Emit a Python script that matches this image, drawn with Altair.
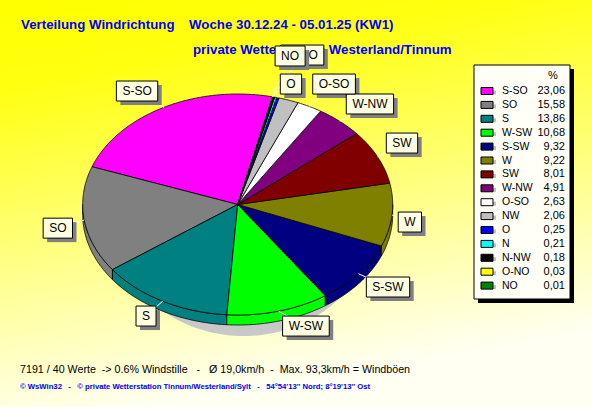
import math

import altair as alt
import pandas as pd

# ---------------------------------------------------------------- data
directions = ["S-SO", "SO", "S", "W-SW", "S-SW", "W", "SW", "W-NW",
              "O-SO", "NW", "O", "N", "N-NW", "O-NO", "NO"]
shares = [23.06, 15.58, 13.86, 10.68, 9.32, 9.22, 8.01, 4.91,
          2.63, 2.06, 0.25, 0.21, 0.18, 0.03, 0.01]
colors = ["#FF00FF", "#808080", "#008080", "#00FF00", "#000080", "#808000",
          "#800000", "#800080", "#FFFFFF", "#C0C0C0", "#0000FF", "#00FFFF",
          "#000000", "#FFFF00", "#008000"]

title_left = "Verteilung Windrichtung"
title_right = "Woche 30.12.24 - 05.01.25 (KW1)"
subtitle_text = "private Wetterstation Westerland/Tinnum"
summary_text = ("7191 / 40 Werte\u00a0\u00a0-> 0.6% Windstille\u00a0\u00a0\u00a0-\u00a0\u00a0\u00a0"
                "Ø 19,0km/h\u00a0\u00a0-\u00a0\u00a0Max. 93,3km/h = Windböen")
credit_text = ("© WsWin32\u00a0\u00a0\u00a0-\u00a0\u00a0\u00a0© private Wetterstation "
               "Tinnum/Westerland/Sylt\u00a0\u00a0\u00a0-\u00a0\u00a0\u00a0"
               "54°54'13'' Nord; 8°19'13'' Ost")

# ---------------------------------------------------------------- layout
W, H = 592, 407
CX, CY = 237.7, 204.5          # centre of the pie's top face
RX, RY = 155.0, 110.5          # ellipse radii of the tilted pie
DEPTH = 10.0                   # thickness of the pie
START = -13.0                  # first slice starts 13 deg clockwise of top
SHADOW_DX, SHADOW_DY, SHADOW_RX = 6.0, 11.0, 0.82 * 155.0

# pie labels: (angle shift in deg, radial factor); O-NO sits behind NO
label_layout = {
    "S-SO": (3.8, 1.215), "SO": (2.4, 1.18), "S": (-1.4, 1.17),
    "W-SW": (6.6, 1.185), "S-SW": (1.2, 1.224), "W": (-2.7, 1.122),
    "SW": (2.1, 1.197), "W-NW": (-2.0, 1.247), "O-SO": (-2.1, 1.255),
    "O-NO": (-4.0, 1.415), "O": (-2.5, 1.143), "NO": (-1.1, 1.386),
}
back_labels = ["O-NO"]
LABEL_FONT = 12
GLYPH = {"S": 0.667, "O": 0.778, "N": 0.722, "W": 0.944, "-": 0.333}

LEG_X0, LEG_X1, LEG_Y0, LEG_Y1 = 474, 570, 65, 299
LEG_ROW0, LEG_STEP = 91.0, 13.9

FONT = "Liberation Sans"
BLUE = "#0000FF"
TITLE_SIZE = 13.3


def ell(a, dy=0.0, cx=CX, cy=CY, rx=RX, ry=RY):
    r = math.radians(a)
    return cx - rx * math.sin(r), cy - ry * math.cos(r) + dy


def arc_pts(a0, a1, step=1.0):
    n = max(2, int(math.ceil(abs(a1 - a0) / step)) + 1)
    return [a0 + (a1 - a0) * k / (n - 1) for k in range(n)]


# ---------------------------------------------------------------- geometry
total = sum(shares)
cum = 0.0
angles = {}
top_rows, side_rows = [], []
for name, v in zip(directions, shares):
    a0 = START + 360.0 * cum / total
    cum += v
    a1 = START + 360.0 * cum / total
    angles[name] = (a0, a1)
    pts = [(CX, CY)] + [ell(a) for a in arc_pts(a0, a1, 0.5)] + [(CX, CY)]
    for k, (px, py) in enumerate(pts):
        top_rows.append({"dir": name, "k": k, "x": px, "y": py})
    b0, b1 = max(a0, 90.0), min(a1, 270.0)
    if b1 > b0:
        arc = arc_pts(b0, b1, 0.5)
        pts = [ell(a) for a in arc] + [ell(a, DEPTH) for a in reversed(arc)]
        pts.append(pts[0])
        for k, (px, py) in enumerate(pts):
            side_rows.append({"dir": name, "k": k, "x": px, "y": py})

shadow_rows = [{"k": k, "x": px, "y": py}
               for k, (px, py) in enumerate(
                   ell(a, DEPTH + SHADOW_DY, CX + SHADOW_DX, CY, SHADOW_RX, RY)
                   for a in arc_pts(0, 360, 2))]

label_rows = []
for name, (shift, f) in label_layout.items():
    a0, a1 = angles[name]
    mid = (a0 + a1) / 2
    ex, ey = ell(mid)
    lx, ly = ell(mid + shift, 0.0, CX, CY, RX * f, RY * f)
    w = sum(GLYPH[c] for c in name) * LABEL_FONT + 12
    label_rows.append({"dir": name, "ex": ex, "ey": ey, "lx": lx, "ly": ly,
                       "bx0": lx - w / 2, "bx1": lx + w / 2,
                       "by0": ly - 10, "by1": ly + 10,
                       "tier": 0 if name in back_labels else 1})
labels = pd.DataFrame(label_rows)
for c in ("bx0", "bx1", "by0", "by1"):
    labels["s" + c] = labels[c] + 4

leg = pd.DataFrame({"dir": directions,
                    "val": [f"{v:.2f}".replace(".", ",") for v in shares]})
leg["ry"] = LEG_ROW0 + LEG_STEP * pd.Series(range(len(leg)))
leg["sy0"], leg["sy1"] = leg["ry"] - 3.5, leg["ry"] + 3.5

# ---------------------------------------------------------------- chart
xs = alt.Scale(domain=[0, W], nice=False, zero=False)
ys = alt.Scale(domain=[H, 0], nice=False, zero=False)
cs = alt.Scale(domain=directions, range=colors)


def X(f):
    return alt.X(f"{f}:Q", scale=xs, axis=None)


def Y(f):
    return alt.Y(f"{f}:Q", scale=ys, axis=None)


one = alt.Data(values=[{}])

background = alt.Chart(one).mark_rect(
    color=alt.LinearGradient(
        gradient="linear", x1=0, y1=0, x2=0.25, y2=1,
        stops=[alt.GradientStop(color="#FFFF00", offset=0),
               alt.GradientStop(color="#FFFF10", offset=0.2),
               alt.GradientStop(color="#FFFFF2", offset=1)])
).encode(x=alt.value(0), x2=alt.value(W), y=alt.value(0), y2=alt.value(H))


def free_text(txt, x, y, size, color, weight="normal", align="left"):
    return alt.Chart(one).mark_text(
        text=txt, font=FONT, fontSize=size, fontWeight=weight, color=color,
        align=align, baseline="middle"
    ).encode(x=alt.value(x), y=alt.value(y))


titles = [
    free_text(title_left, 21, 25, TITLE_SIZE, BLUE, "bold"),
    free_text(title_right, 189, 25, TITLE_SIZE, BLUE, "bold"),
    free_text(subtitle_text, 193, 50, TITLE_SIZE, BLUE, "bold"),
    free_text(summary_text, 20, 370, 10.7, "#000000"),
    free_text(credit_text, 20, 387, 7.7, BLUE, "bold"),
]

shadow = alt.Chart(pd.DataFrame(shadow_rows)).mark_line(
    filled=True, color="#C8C8C8", strokeWidth=0
).encode(x=X("x"), y=Y("y"), order="k:Q")

sides = alt.Chart(pd.DataFrame(side_rows)).mark_line(
    filled=True, stroke="black", strokeWidth=0.8
).encode(x=X("x"), y=Y("y"), order="k:Q",
         color=alt.Color("dir:N", scale=cs, legend=None))

tops = alt.Chart(pd.DataFrame(top_rows)).mark_line(
    filled=True, stroke="black", strokeWidth=0.8
).encode(x=X("x"), y=Y("y"), order="k:Q",
         color=alt.Color("dir:N", scale=cs, legend=None))

leaders = alt.Chart(labels).mark_rule(color="white", strokeWidth=1).encode(
    x=X("ex"), y=Y("ey"), x2="lx:Q", y2="ly:Q")

label_layers = []
for tier in (0, 1):
    part = labels[labels["tier"] == tier]
    if part.empty:
        continue
    base = alt.Chart(part)
    label_layers += [
        base.mark_rect(color="#808080").encode(
            x=X("sbx0"), x2="sbx1:Q", y=Y("sby0"), y2="sby1:Q"),
        base.mark_rect(fill="#FFFFE1", stroke="black", strokeWidth=1).encode(
            x=X("bx0"), x2="bx1:Q", y=Y("by0"), y2="by1:Q"),
        base.mark_text(font=FONT, fontSize=LABEL_FONT, color="black",
                       align="center", baseline="middle").encode(
            x=X("lx"), y=Y("ly"), text="dir:N"),
    ]

legend_box = [
    alt.Chart(one).mark_rect(color="black").encode(
        x=alt.value(LEG_X0 + 4), x2=alt.value(LEG_X1 + 4),
        y=alt.value(LEG_Y0 + 4), y2=alt.value(LEG_Y1 + 4)),
    alt.Chart(one).mark_rect(fill="#FFFFF6", stroke="black", strokeWidth=1).encode(
        x=alt.value(LEG_X0), x2=alt.value(LEG_X1),
        y=alt.value(LEG_Y0), y2=alt.value(LEG_Y1)),
    free_text("%", 553, 76, 11, "black", align="center"),
]
legb = alt.Chart(leg)
legend_rows = [
    legb.mark_rect(color="#C0C0C0").encode(
        x=alt.value(484), x2=alt.value(496),
        y=Y("sy0"), y2="sy1:Q", yOffset=alt.value(3)),
    legb.mark_rect(stroke="black", strokeWidth=1).encode(
        x=alt.value(481), x2=alt.value(493),
        y=Y("sy0"), y2="sy1:Q",
        fill=alt.Fill("dir:N", scale=cs, legend=None)),
    legb.mark_text(font=FONT, fontSize=10.5, color="black", align="left",
                   baseline="middle").encode(
        x=alt.value(502), y=Y("ry"), text="dir:N"),
    legb.mark_text(font=FONT, fontSize=11, color="black", align="right",
                   baseline="middle").encode(
        x=alt.value(565), y=Y("ry"), text="val:N"),
]

chart = alt.layer(
    background, *titles, shadow, sides, tops, leaders, *label_layers,
    *legend_box, *legend_rows
).properties(
    width=W, height=H, padding=0, autosize=alt.AutoSizeParams(type="none")
).configure_view(stroke=None)

chart.save("out.html", embed_options={"renderer": "svg", "actions": False})
